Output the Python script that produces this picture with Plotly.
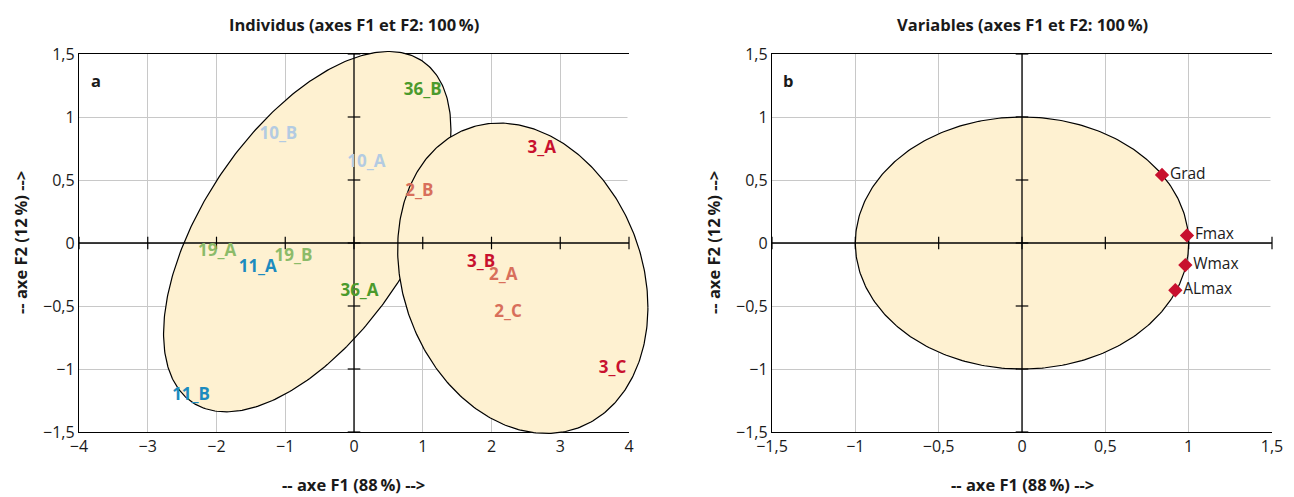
import numpy as np
import plotly.graph_objects as go

# ---------------- data ----------------
ind_labels = ["36_B", "10_B", "10_A", "2_B", "3_A", "19_A", "11_A", "19_B",
              "36_A", "11_B", "3_B", "2_A", "2_C", "3_C"]
ind_f1 = [1.00, -1.10, 0.18, 0.95, 2.73, -1.99, -1.40, -0.88, 0.08, -2.37, 1.85, 2.17, 2.24, 3.76]
ind_f2 = [1.21, 0.86, 0.64, 0.41, 0.75, -0.07, -0.20, -0.11, -0.39, -1.21, -0.16, -0.26, -0.55, -1.00]
ind_colors = ["#4b9a2c", "#b3cbe2", "#b3cbe2", "#d86f5b", "#c8102e", "#8cbb69", "#1c8bbf",
              "#8cbb69", "#4b9a2c", "#1c8bbf", "#c8102e", "#d86f5b", "#d86f5b", "#c8102e"]

var_labels = ["Grad", "Fmax", "Wmax", "ALmax"]
var_f1 = [0.84, 0.99, 0.98, 0.92]
var_f2 = [0.54, 0.06, -0.175, -0.375]

# group ellipses (left panel): centre and shape matrix rows
ell_cx = [-0.68, 2.455]
ell_cy = [0.09, -0.28]
ell_ax = [(2.09, 0.0), (1.82, 0.0)]
ell_ay = [(0.809, 1.179), (-0.231, 1.210)]
# correlation circle (right panel)
circle_r = 1.0

x1_ticks = [-4, -3, -2, -1, 0, 1, 2, 3, 4]
x2_ticks = [-1.5, -1, -0.5, 0, 0.5, 1, 1.5]
y_ticks = [-1.5, -1, -0.5, 0, 0.5, 1, 1.5]

# ---------------- layout geometry (page pixels) ----------------
OFF = 8                      # page body margin
W, H = 1294 - OFF, 497 - OFF
def px(x):
    return (x - OFF) / W
def py(y):
    return 1 - (y - OFF) / H

TOP, BOT = 54, 432
L1, R1 = 79, 629
L2, R2 = 772, 1272
EXT_X, EXT_Y = 40, 12        # extra room for the overflowing ellipses

FONT = "Open Sans"
CREAM = "#fef1d1"
GRID = "#c8c8c8"
TXT = "#1a1a1a"

fig = go.Figure()
t = np.linspace(0, 2 * np.pi, 361)

# base subplots (grid, frame, tick labels)
for xa, ya in (("x", "y"), ("x2", "y2")):
    fig.add_trace(go.Scatter(x=[None], y=[None], mode="markers", xaxis=xa, yaxis=ya,
                             hoverinfo="skip", showlegend=False))

def edge_cover(xa, ya, xr):
    fig.add_trace(go.Scatter(x=[xr, xr], y=[y_ticks[0], y_ticks[-1]], mode="lines",
                             line=dict(color="white", width=3), xaxis=xa, yaxis=ya,
                             hoverinfo="skip", showlegend=False))

def cross(xa, ya, xt):
    fig.add_trace(go.Scatter(x=[xt[0], xt[-1]], y=[0, 0], mode="lines",
                             line=dict(color="black", width=1.3), xaxis=xa, yaxis=ya,
                             hoverinfo="skip", showlegend=False))
    fig.add_trace(go.Scatter(x=[0, 0], y=[y_ticks[0], y_ticks[-1]], mode="lines",
                             line=dict(color="black", width=1.3), xaxis=xa, yaxis=ya,
                             hoverinfo="skip", showlegend=False))
    fig.add_trace(go.Scatter(x=xt, y=[0] * len(xt), mode="markers",
                             marker=dict(symbol="line-ns", size=9, line=dict(color="black", width=1.2)),
                             xaxis=xa, yaxis=ya, hoverinfo="skip", showlegend=False, cliponaxis=False))
    fig.add_trace(go.Scatter(x=[0] * len(y_ticks), y=y_ticks, mode="markers",
                             marker=dict(symbol="line-ew", size=9, line=dict(color="black", width=1.2)),
                             xaxis=xa, yaxis=ya, hoverinfo="skip", showlegend=False, cliponaxis=False))

# ----- left panel overlay (x3/y3) -----
edge_cover("x3", "y3", x1_ticks[-1])
for cx, cy, ax_, ay_ in zip(ell_cx, ell_cy, ell_ax, ell_ay):
    ex = cx + ax_[0] * np.cos(t) + ax_[1] * np.sin(t)
    ey = cy + ay_[0] * np.cos(t) + ay_[1] * np.sin(t)
    fig.add_trace(go.Scatter(x=ex, y=ey, mode="lines", fill="toself", fillcolor=CREAM,
                             line=dict(color="black", width=1.2), xaxis="x3", yaxis="y3",
                             hoverinfo="skip", showlegend=False))
cross("x3", "y3", x1_ticks)
fig.add_trace(go.Scatter(x=ind_f1, y=ind_f2, mode="text", text=ind_labels,
                         textposition="middle center",
                         textfont=dict(family=FONT, size=17, color=ind_colors, weight="bold"),
                         xaxis="x3", yaxis="y3", hoverinfo="skip", showlegend=False, cliponaxis=False))

# ----- right panel overlay (x4/y4) -----
edge_cover("x4", "y4", x2_ticks[-1])
fig.add_trace(go.Scatter(x=circle_r * np.cos(t), y=circle_r * np.sin(t), mode="lines",
                         fill="toself", fillcolor=CREAM, line=dict(color="black", width=1.2),
                         xaxis="x4", yaxis="y4", hoverinfo="skip", showlegend=False))
cross("x4", "y4", x2_ticks)
fig.add_trace(go.Scatter(x=var_f1, y=var_f2, mode="markers+text", text=var_labels,
                         textposition="middle right",
                         marker=dict(symbol="diamond", size=11, color="#c8102e"),
                         textfont=dict(family=FONT, size=15.5, color=TXT),
                         xaxis="x4", yaxis="y4", hoverinfo="skip", showlegend=False, cliponaxis=False))

axis_common = dict(showgrid=True, gridcolor=GRID, gridwidth=1.3, zeroline=False,
                   showline=True, linecolor="black", linewidth=1.3, ticks="",
                   automargin=False,
                   tickfont=dict(family=FONT, size=16, color=TXT), fixedrange=True)
hidden = dict(visible=False, showgrid=False, zeroline=False, automargin=False, fixedrange=True)

sx1 = (R1 - L1) / (x1_ticks[-1] - x1_ticks[0])
sx2 = (R2 - L2) / (x2_ticks[-1] - x2_ticks[0])
sy = (BOT - TOP) / (y_ticks[-1] - y_ticks[0])
y_ext = [y_ticks[0] - EXT_Y / sy, y_ticks[-1] + EXT_Y / sy]
ydom = [py(BOT), py(TOP)]
ydom_ext = [py(BOT + EXT_Y), py(TOP - EXT_Y)]

fig.update_layout(
    width=W, height=H,
    margin=dict(l=0, r=0, t=0, b=0),
    paper_bgcolor="white", plot_bgcolor="rgba(0,0,0,0)",
    separators=", ",
    showlegend=False,
    xaxis=dict(domain=[px(L1), px(R1)], range=[x1_ticks[0], x1_ticks[-1]], tickvals=x1_ticks,
               anchor="y", mirror=True, **axis_common),
    yaxis=dict(domain=ydom, range=[y_ticks[0], y_ticks[-1]], tickvals=y_ticks,
               anchor="x", mirror=False, **axis_common),
    xaxis2=dict(domain=[px(L2), px(R2)], range=[x2_ticks[0], x2_ticks[-1]], tickvals=x2_ticks,
                anchor="y2", mirror=True, **axis_common),
    yaxis2=dict(domain=ydom, range=[y_ticks[0], y_ticks[-1]], tickvals=y_ticks,
                anchor="x2", mirror=False, **axis_common),
    xaxis3=dict(domain=[px(L1), px(R1 + EXT_X)], range=[x1_ticks[0], x1_ticks[-1] + EXT_X / sx1],
                anchor="y3", **hidden),
    yaxis3=dict(domain=ydom_ext, range=y_ext, anchor="x3", **hidden),
    xaxis4=dict(domain=[px(L2), px(R2 + 10)], range=[x2_ticks[0], x2_ticks[-1] + 10 / sx2],
                anchor="y4", **hidden),
    yaxis4=dict(domain=ydom_ext, range=y_ext, anchor="x4", **hidden),
)

ann = []
title_font = dict(family=FONT, size=16.5, color=TXT, weight="bold")
base = dict(xref="paper", yref="paper", showarrow=False, font=title_font,
            xanchor="center", yanchor="middle")
ann.append(dict(text="Individus (axes F1 et F2: 100\u2009%)", x=px(354), y=py(25), **base))
ann.append(dict(text="Variables (axes F1 et F2: 100\u2009%)", x=px(1022), y=py(25), **base))
for cx in (354, 1022):
    ann.append(dict(text="-- axe F1 (88\u2009%) -->", x=px(cx), y=py(484), **base))
for cx in (21, 714):
    ann.append(dict(text="-- axe F2 (12\u2009%) -->", x=px(cx), y=py(243), textangle=-90, **base))
ann.append(dict(text="a", x=px(96), y=py(80), **base))
ann.append(dict(text="b", x=px(788), y=py(80), **base))
fig.update_layout(annotations=ann)

fig.write_html("out.html")
